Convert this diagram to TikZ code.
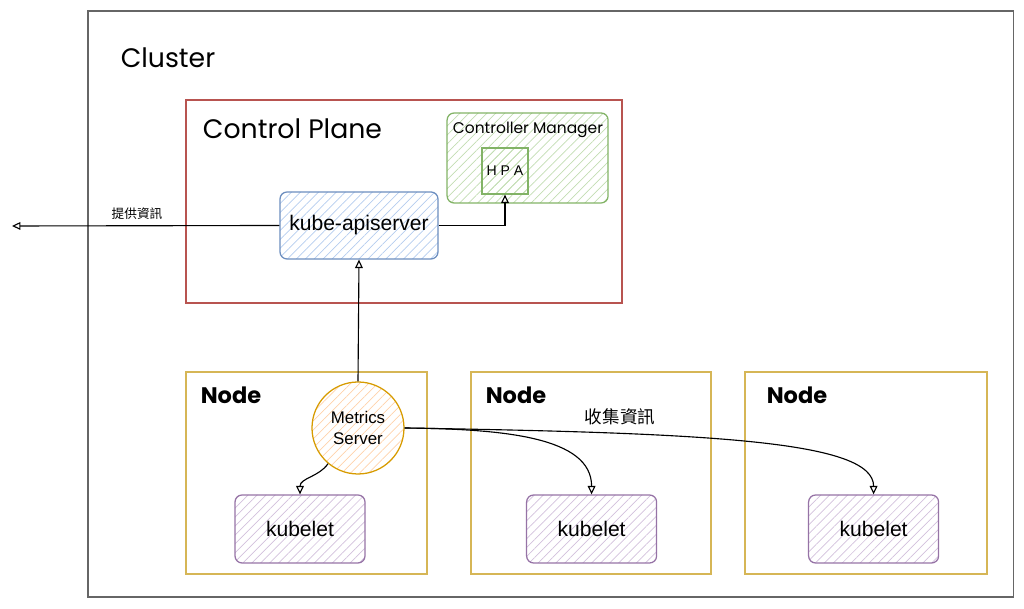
\documentclass[tikz,border=0pt]{standalone}
\usepackage{fontspec}
\setmainfont{Liberation Sans}
\newfontfamily\sketchfont{Poppins}
\newfontfamily\cjk{Noto Sans CJK TC}
\usepackage{tikz}
\usetikzlibrary{positioning,arrows.meta,patterns.meta}
\definecolor{clusterline}{HTML}{666666}
\definecolor{planeline}{HTML}{B85450}
\definecolor{nodeline}{HTML}{D6B656}
\definecolor{apiline}{HTML}{6C8EBF}
\definecolor{apihatch}{HTML}{B4CCEE}
\definecolor{cmline}{HTML}{82B366}
\definecolor{cmhatch}{HTML}{C2DDB2}
\definecolor{msline}{HTML}{D79B00}
\definecolor{mshatch}{HTML}{FFD2AA}
\definecolor{kbline}{HTML}{9673A6}
\definecolor{kbhatch}{HTML}{D2C0DC}

\begin{document}
\begin{tikzpicture}[
  frame/.style   = {draw, line width=0.8pt},
  hatched/.style = {pattern={Lines[angle=45,distance=4.5pt,line width=0.5pt]}},
  comp/.style    = {draw, hatched, rounded corners=5pt, line width=0.9pt,
                    inner sep=0pt, font=\fontsize{15}{18}\selectfont},
  api/.style     = {comp, draw=apiline, pattern color=apihatch,
                    minimum width=3.95cm, minimum height=1.675cm},
  kb/.style      = {comp, draw=kbline, pattern color=kbhatch,
                    minimum width=3.25cm, minimum height=1.7cm},
  ms/.style      = {circle, draw=msline, hatched, pattern color=mshatch,
                    line width=0.9pt, minimum size=2.3cm, inner sep=0pt,
                    align=center, font=\fontsize{12}{15}\selectfont},
  title/.style   = {font=\sketchfont\fontsize{19}{22}\selectfont},
  nodetitle/.style = {font=\sketchfont\bfseries\fontsize{16}{19}\selectfont},
  a/.style       = {draw=black, line width=0.8pt,
                    -{Triangle[open,length=6pt,width=5.5pt]}}]

\useasboundingbox (0,0) rectangle (25.6,15.225);

% --- frames -----------------------------------------------------------
\draw[frame, draw=clusterline, line width=1pt] (2.2,0.3) rectangle (25.33,14.95);
\node[title] (cluster) at (4.2,13.775) {Cluster};

\draw[frame, draw=planeline] (4.65,7.65) rectangle (15.55,12.725);
\node[title, anchor=west] (plane) at (4.95,12.0) {Control Plane};

\node[frame, draw=nodeline, minimum width=6.025cm, minimum height=5.05cm]
      (n1) at (7.6625,3.4) {};
\node[frame, draw=nodeline, minimum width=6.0cm, minimum height=5.05cm]
      (n2) at (14.775,3.4) {};
\node[frame, draw=nodeline, minimum width=6.05cm, minimum height=5.05cm]
      (n3) at (21.65,3.4) {};
\node[nodetitle] (n1t) at (5.775,5.35)  {Node};
\node[nodetitle] (n2t) at (12.9,5.35)   {Node};
\node[nodetitle] (n3t) at (19.925,5.35) {Node};

% --- components -------------------------------------------------------
\node[comp, draw=cmline, pattern color=cmhatch, minimum width=4.025cm,
      minimum height=2.25cm] (cm) at (13.19,11.275) {};
\node[font=\sketchfont\fontsize{11}{13}\selectfont] (cmt) at (13.2,11.975)
      {Controller Manager};
\node[draw=cmline, line width=0.9pt, fill=white, hatched, pattern color=cmhatch,
      minimum size=1.15cm, inner sep=0pt, font=\fontsize{10}{12}\selectfont]
      (hpa) at (12.625,10.95) {H P A};

\node[api] (api) at (8.975,9.5875) {kube-apiserver};
\node[ms]  (ms)  at (8.95,4.525)   {Metrics\\Server};

\node[kb] (k1) at (7.5,2.0)   {kubelet};
\node[kb] (k2) at (14.79,2.0) {kubelet};
\node[kb] (k3) at (21.84,2.0) {kubelet};

% --- connectors -------------------------------------------------------
\coordinate (out) at (0.3,9.575);
\draw[a] (api.west) -- (out);
\draw[a] (api.east) -| (hpa.south);
\draw[a] (ms.north) -- (api.south);
\draw[a] (ms.-130) to[out=-125,in=90] (k1.north);
\draw[a] (ms.east) .. controls (12.6,4.5) and (14.79,4.3) .. (k2.north);
\draw[a] (ms.east) .. controls (17.8,4.4) and (21.84,4.2) .. (k3.north);

% --- labels -----------------------------------------------------------
\node[font=\cjk\fontsize{9}{11}\selectfont]      (give)    at (3.425,9.875) {提供資訊};
\node[font=\cjk\fontsize{12.5}{15}\selectfont]   (collect) at (15.5,4.8)    {收集資訊};
\end{tikzpicture}
\end{document}
